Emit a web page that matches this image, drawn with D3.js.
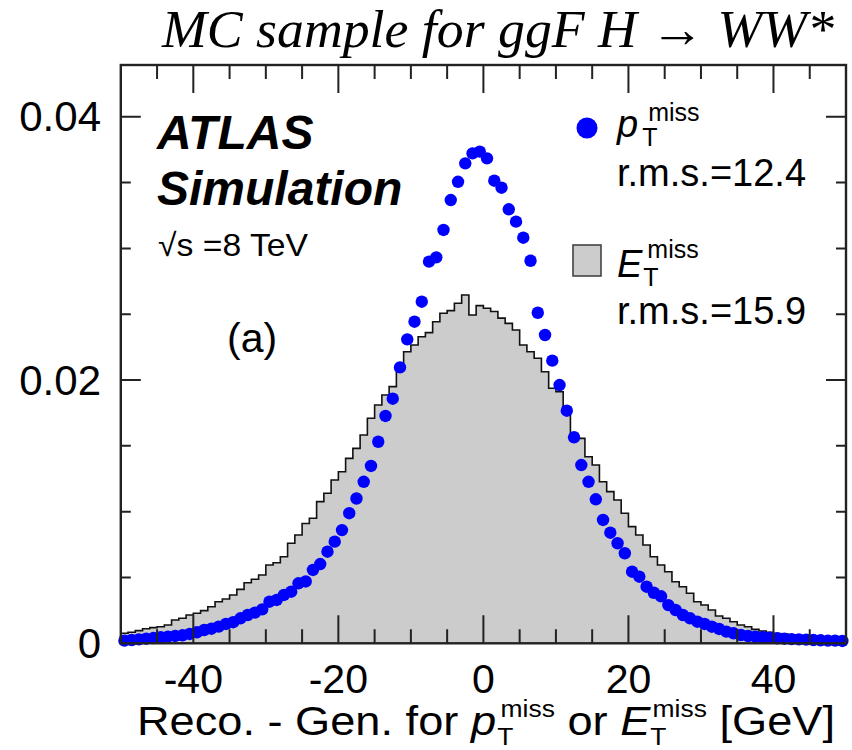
<!DOCTYPE html>
<html>
<head>
<meta charset="utf-8">
<script src="https://cdn.jsdelivr.net/npm/d3@7"></script>
<style>
  body { margin: 0; background: #fff; }
  svg { display: block; }
</style>
</head>
<body>
<div id="chart"></div>
<script>
// Binning of both distributions (GeV)
const xMin = -50;
const binWidth = 1;

// E_T^miss histogram contents, one per 1 GeV bin from -50 to 50
const etmissHist = [
  0.00076, 0.00084, 0.00096, 0.00111, 0.00119, 0.00126, 0.00139, 0.00177, 0.00190, 0.00215,
  0.00228, 0.00248, 0.00278, 0.00316, 0.00337, 0.00367, 0.00410, 0.00460, 0.00486, 0.00519,
  0.00595, 0.00612, 0.00658, 0.00760, 0.00823, 0.00910, 0.00950, 0.01076, 0.01140, 0.01240,
  0.01303, 0.01405, 0.01481, 0.01582, 0.01710, 0.01810, 0.01886, 0.01950, 0.02100, 0.02215,
  0.02266, 0.02329, 0.02360, 0.02443, 0.02507, 0.02527, 0.02583, 0.02646, 0.02494, 0.02565,
  0.02545, 0.02520, 0.02470, 0.02430, 0.02380, 0.02266, 0.02215, 0.02165, 0.02063, 0.01937,
  0.01911, 0.01772, 0.01595, 0.01557, 0.01417, 0.01354, 0.01227, 0.01152, 0.01088, 0.00988,
  0.00886, 0.00823, 0.00747, 0.00658, 0.00595, 0.00544, 0.00468, 0.00430, 0.00380, 0.00316,
  0.00291, 0.00253, 0.00207, 0.00190, 0.00164, 0.00139, 0.00126, 0.00106, 0.00093, 0.00084,
  0.00075, 0.00070, 0.00063, 0.00058, 0.00052, 0.00048, 0.00043, 0.00039, 0.00035, 0.00031
];

// p_T^miss points, same bins
const ptmissPoints = [
  0.00020, 0.00025, 0.00030, 0.00035, 0.00040, 0.00046, 0.00051, 0.00056, 0.00061, 0.00071,
  0.00084, 0.00101, 0.00111, 0.00127, 0.00147, 0.00160, 0.00190, 0.00215, 0.00233, 0.00258,
  0.00316, 0.00329, 0.00367, 0.00392, 0.00456, 0.00470, 0.00557, 0.00602, 0.00696, 0.00772,
  0.00860, 0.00988, 0.01100, 0.01227, 0.01347, 0.01531, 0.01727, 0.01858, 0.02096, 0.02309,
  0.02443, 0.02595, 0.02899, 0.02932, 0.03140, 0.03367, 0.03506, 0.03646, 0.03722, 0.03735,
  0.03684, 0.03514, 0.03461, 0.03297, 0.03203, 0.03081, 0.02906, 0.02511, 0.02342, 0.02147,
  0.01962, 0.01767, 0.01565, 0.01354, 0.01227, 0.01094, 0.00937, 0.00840, 0.00760, 0.00684,
  0.00544, 0.00506, 0.00430, 0.00384, 0.00357, 0.00290, 0.00253, 0.00215, 0.00190, 0.00164,
  0.00147, 0.00126, 0.00109, 0.00089, 0.00076, 0.00063, 0.00055, 0.00050, 0.00046, 0.00042,
  0.00038, 0.00035, 0.00032, 0.00030, 0.00028, 0.00025, 0.00023, 0.00020, 0.00020, 0.00018
];

const xTickLabels = [-40, -20, 0, 20, 40];
const yTickLabels = [0, 0.02, 0.04];
const legendRms = ["r.m.s.=12.4", "r.m.s.=15.9"];

const width = 852;
const height = 750;
const marginLeft = 120.8;
const marginRight = 6;
const marginTop = 65;
const marginBottom = 106.7;

const x = d3.scaleLinear([-50, 50], [marginLeft, width - marginRight]);
const y = d3.scaleLinear([0, 0.04393], [height - marginBottom, marginTop]);

const sans = "'Liberation Sans', Arial, Helvetica, sans-serif";
const serif = "'Liberation Serif', 'Times New Roman', serif";

const svg = d3.select("#chart").append("svg")
  .attr("width", width)
  .attr("height", height)
  .attr("viewBox", [0, 0, width, height]);

// histogram as a filled step line
const bins = etmissHist.map((v, i) => ({x0: xMin + i * binWidth, x1: xMin + (i + 1) * binWidth, v}));
const stepPts = [[bins[0].x0, 0]];
bins.forEach(b => { stepPts.push([b.x0, b.v]); stepPts.push([b.x1, b.v]); });
stepPts.push([bins[bins.length - 1].x1, 0]);

const line = d3.line().x(d => x(d[0])).y(d => y(d[1]));

svg.append("path")
  .attr("d", line(stepPts))
  .attr("fill", "#cccccc")
  .attr("stroke", "none");

svg.append("path")
  .attr("d", line(stepPts.slice(1, -1)))
  .attr("fill", "none")
  .attr("stroke", "#111")
  .attr("stroke-width", 1.6);

// p_T^miss markers
svg.append("g")
  .attr("fill", "#0000ff")
  .selectAll("circle")
  .data(ptmissPoints)
  .join("circle")
  .attr("cx", (d, i) => x(xMin + (i + 0.5) * binWidth))
  .attr("cy", d => y(d))
  .attr("r", 6.2);

// frame and ticks
const frame = svg.append("g").attr("stroke", "#222");
frame.append("rect")
  .attr("x", x(-50)).attr("y", y.range()[1])
  .attr("width", x(50) - x(-50)).attr("height", y.range()[0] - y.range()[1])
  .attr("fill", "none")
  .attr("stroke-width", 2.4);

const xMinor = d3.range(-45, 50, 5);
frame.selectAll(".xt")
  .data(xMinor)
  .join("path")
  .attr("stroke-width", 2)
  .attr("d", d => {
    const len = d % 20 === 0 ? 28 : 14;
    const px = x(d);
    return `M${px},${y(0)}V${y(0) - len}M${px},${marginTop}V${marginTop + len}`;
  });

const yMinor = d3.range(0.005, 0.0435, 0.005);
frame.selectAll(".yt")
  .data(yMinor)
  .join("path")
  .attr("stroke-width", 2)
  .attr("d", d => {
    const major = Math.abs(d / 0.02 - Math.round(d / 0.02)) < 1e-6;
    const len = major ? 20 : 10;
    const py = y(d);
    return `M${x(-50)},${py}H${x(-50) + len}M${x(50)},${py}H${x(50) - len}`;
  });

// tick labels
svg.append("g")
  .attr("font-family", sans)
  .attr("font-size", 41)
  .attr("text-anchor", "middle")
  .selectAll("text")
  .data(xTickLabels)
  .join("text")
  .attr("x", d => x(d))
  .attr("y", 693)
  .text(d => d);

svg.append("g")
  .attr("font-family", sans)
  .attr("font-size", 42)
  .attr("text-anchor", "end")
  .selectAll("text")
  .data(yTickLabels)
  .join("text")
  .attr("x", 101)
  .attr("y", d => y(d))
  .attr("dy", "0.35em")
  .text(d => d === 0 ? "0" : d3.format(".2f")(d));

// text pieces laid out one after another, sub/sup stacked;
// optional fitWidth stretches the whole run horizontally
function rich(parent, x0, y0, parts, anchor, fitWidth) {
  const g = parent.append("g").attr("font-family", sans);
  let cx = 0;
  parts.forEach(p => {
    if (p.sub !== undefined) {
      const a = g.append("text").attr("x", cx).attr("y", p.subDy)
        .attr("font-size", p.small).text(p.sub);
      const b = g.append("text").attr("x", cx + (p.supDx || 0)).attr("y", p.supDy)
        .attr("font-size", p.small).text(p.sup);
      cx += Math.max(a.node().getComputedTextLength(), b.node().getComputedTextLength() + (p.supDx || 0));
    } else {
      const t = g.append("text").attr("x", cx).attr("y", 0)
        .attr("font-size", p.size)
        .attr("font-style", p.italic ? "italic" : null)
        .attr("font-weight", p.bold ? "bold" : null)
        .attr("xml:space", "preserve")
        .text(p.t);
      cx += t.node().getComputedTextLength() + (p.after || 0);
    }
  });
  const sx = fitWidth ? fitWidth / cx : 1;
  const w = cx * sx;
  const shift = anchor === "end" ? -w : anchor === "middle" ? -w / 2 : 0;
  g.attr("transform", `translate(${x0 + shift},${y0}) scale(${sx},1)`);
  return g;
}

// title
svg.append("text")
  .attr("x", 162)
  .attr("y", 46.5)
  .attr("font-family", serif)
  .attr("font-style", "italic")
  .attr("font-size", 52)
  .attr("textLength", 672)
  .attr("lengthAdjust", "spacingAndGlyphs")
  .text("MC sample for ggF H \u2192 WW*");

// ATLAS label
const atlas = svg.append("g").attr("font-family", sans).attr("font-weight", "bold").attr("font-style", "italic");
atlas.append("text").attr("x", 157).attr("y", 149).attr("font-size", 48).text("ATLAS");
atlas.append("text").attr("x", 157).attr("y", 205).attr("font-size", 48).text("Simulation");

rich(svg, 158, 256, [
  {t: "\u221As", size: 32},
  {t: " =8 TeV", size: 32}
], "start", 150);

svg.append("text")
  .attr("x", 227).attr("y", 352)
  .attr("font-family", sans).attr("font-size", 41)
  .text("(a)");

// legend
svg.append("circle").attr("cx", 587).attr("cy", 128).attr("r", 10.5).attr("fill", "#0000ff");
rich(svg, 617, 137, [
  {t: "p", size: 38, italic: true, after: 4},
  {sub: "T", sup: "miss", small: 25, subDy: 9, supDy: -16, supDx: 6}
]);
svg.append("text").attr("x", 617).attr("y", 186)
  .attr("font-family", sans).attr("font-size", 38).text(legendRms[0]);

svg.append("rect")
  .attr("x", 573).attr("y", 245).attr("width", 28).attr("height", 31)
  .attr("fill", "#cccccc").attr("stroke", "#444").attr("stroke-width", 1.6);
rich(svg, 617, 277, [
  {t: "E", size: 38, italic: true, after: 1},
  {sub: "T", sup: "miss", small: 25, subDy: 9, supDy: -19, supDx: 4}
]);
svg.append("text").attr("x", 617).attr("y", 324)
  .attr("font-family", sans).attr("font-size", 38).text(legendRms[1]);

// x-axis title
rich(svg, 835, 735, [
  {t: "Reco. - Gen. for ", size: 41},
  {t: "p", size: 41, italic: true, after: 1},
  {sub: "T", sup: "miss", small: 24, subDy: 10, supDy: -18, supDx: 3},
  {t: " or ", size: 41},
  {t: "E", size: 41, italic: true, after: 0},
  {sub: "T", sup: "miss", small: 24, subDy: 10, supDy: -18, supDx: 2},
  {t: " [GeV]", size: 41}
], "end", 698);
</script>
</body>
</html>
